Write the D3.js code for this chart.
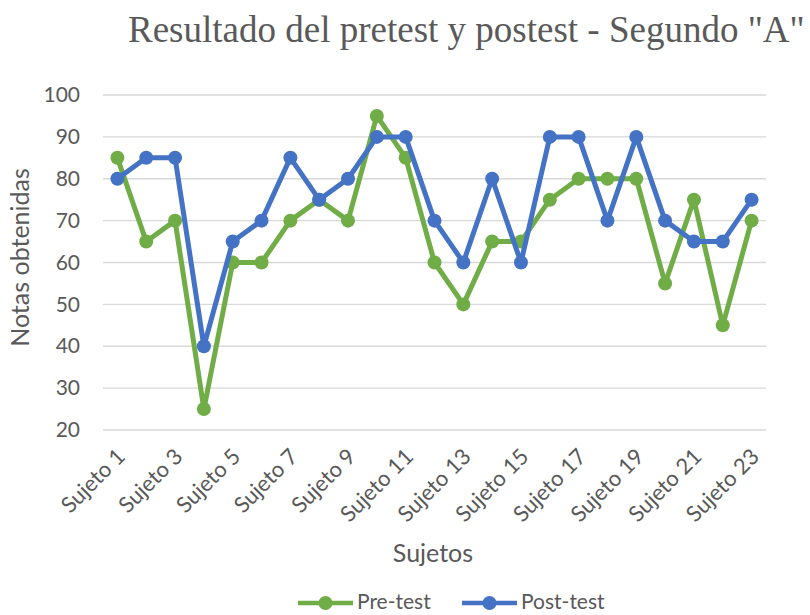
<!DOCTYPE html>
<html>
<head>
<meta charset="utf-8">
<script src="https://d3js.org/d3.v7.min.js"></script>
<style>
  body { margin: 0; background: #fff; }
  text { font-family: Lato, "Open Sans", sans-serif; fill: #595959; }
</style>
</head>
<body>
<div id="chart"></div>
<script>
// data
var subjects = d3.range(1, 24).map(function(i) { return "Sujeto " + i; });
var preTest  = [85, 65, 70, 25, 60, 60, 70, 75, 70, 95, 85, 60, 50, 65, 65, 75, 80, 80, 80, 55, 75, 45, 70];
var postTest = [80, 85, 85, 40, 65, 70, 85, 75, 80, 90, 90, 70, 60, 80, 60, 90, 90, 70, 90, 70, 65, 65, 75];
var yTicks = [20, 30, 40, 50, 60, 70, 80, 90, 100];
var seriesNames = ["Pre-test", "Post-test"];
var colors = ["#70AD47", "#4472C4"];

var W = 810, H = 615;
var margin = {top: 95, right: 44, bottom: 185, left: 103},
    width = W - margin.left - margin.right,
    height = H - margin.top - margin.bottom;

var svg = d3.select("#chart")
  .append("svg")
    .attr("width", W)
    .attr("height", H);

var g = svg.append("g")
    .attr("transform", "translate(" + margin.left + "," + margin.top + ")");

// scales
var x = d3.scaleBand()
  .domain(subjects)
  .range([0, width]);

var y = d3.scaleLinear()
  .domain([20, 100])
  .range([height, 0]);

// gridlines
g.append("g")
  .selectAll("line")
  .data(yTicks)
  .enter()
  .append("line")
    .attr("x1", 0)
    .attr("x2", width)
    .attr("y1", function(d) { return y(d); })
    .attr("y2", function(d) { return y(d); })
    .style("stroke", "#d9d9d9")
    .style("stroke-width", 1.3);

// y axis
var yAxis = g.append("g")
  .call(d3.axisLeft(y).tickValues(yTicks).tickSize(0).tickPadding(23));
yAxis.select(".domain").remove();
yAxis.selectAll("text")
  .style("font-size", "21px")
  .style("fill", "#595959")
  .style("font-family", "Lato, sans-serif");

// x axis (every other label, rotated)
var xAxis = g.append("g")
  .attr("transform", "translate(0," + height + ")")
  .call(d3.axisBottom(x)
    .tickValues(subjects.filter(function(d, i) { return i % 2 === 0; }))
    .tickSize(0));
xAxis.select(".domain").remove();
xAxis.selectAll("text")
  .attr("text-anchor", "end")
  .attr("dy", null)
  .attr("y", 0)
  .attr("transform", "translate(9,28) rotate(-45)")
  .style("font-size", "22px")
  .style("fill", "#595959")
  .style("font-family", "Lato, sans-serif");

// lines + markers
var line = d3.line()
  .x(function(d, i) { return x(subjects[i]) + x.bandwidth() / 2; })
  .y(function(d) { return y(d); });

[preTest, postTest].forEach(function(vals, k) {
  g.append("path")
    .datum(vals)
    .attr("d", line)
    .style("fill", "none")
    .style("stroke", colors[k])
    .style("stroke-width", 5)
    .style("stroke-linejoin", "round");

  g.append("g")
    .selectAll("circle")
    .data(vals)
    .enter()
    .append("circle")
      .attr("cx", function(d, i) { return x(subjects[i]) + x.bandwidth() / 2; })
      .attr("cy", function(d) { return y(d); })
      .attr("r", 7)
      .style("fill", colors[k]);
});

// title
svg.append("text")
  .attr("x", 128)
  .attr("y", 42)
  .style("font-family", "'Liberation Serif', 'Times New Roman', serif")
  .style("font-size", "37px")
  .style("fill", "#595959")
  .text('Resultado del pretest y postest - Segundo "A"');

// axis titles
svg.append("text")
  .attr("text-anchor", "middle")
  .attr("transform", "translate(29," + (margin.top + height / 2 - 5) + ") rotate(-90)")
  .style("font-size", "25px")
  .text("Notas obtenidas");

svg.append("text")
  .attr("text-anchor", "middle")
  .attr("x", 433)
  .attr("y", 562)
  .style("font-size", "25px")
  .text("Sujetos");

// legend
var legendX = [298, 462];
var legend = svg.selectAll("g.legend")
  .data(seriesNames)
  .enter()
  .append("g")
    .attr("class", "legend")
    .attr("transform", function(d, i) { return "translate(" + legendX[i] + ",603)"; });

legend.append("line")
  .attr("x1", 0)
  .attr("x2", 55)
  .style("stroke", function(d, i) { return colors[i]; })
  .style("stroke-width", 4.5);

legend.append("circle")
  .attr("cx", 27.5)
  .attr("r", 7)
  .style("fill", function(d, i) { return colors[i]; });

legend.append("text")
  .attr("x", 59)
  .attr("y", 6)
  .style("font-size", "21px")
  .text(function(d) { return d; });
</script>
</body>
</html>
